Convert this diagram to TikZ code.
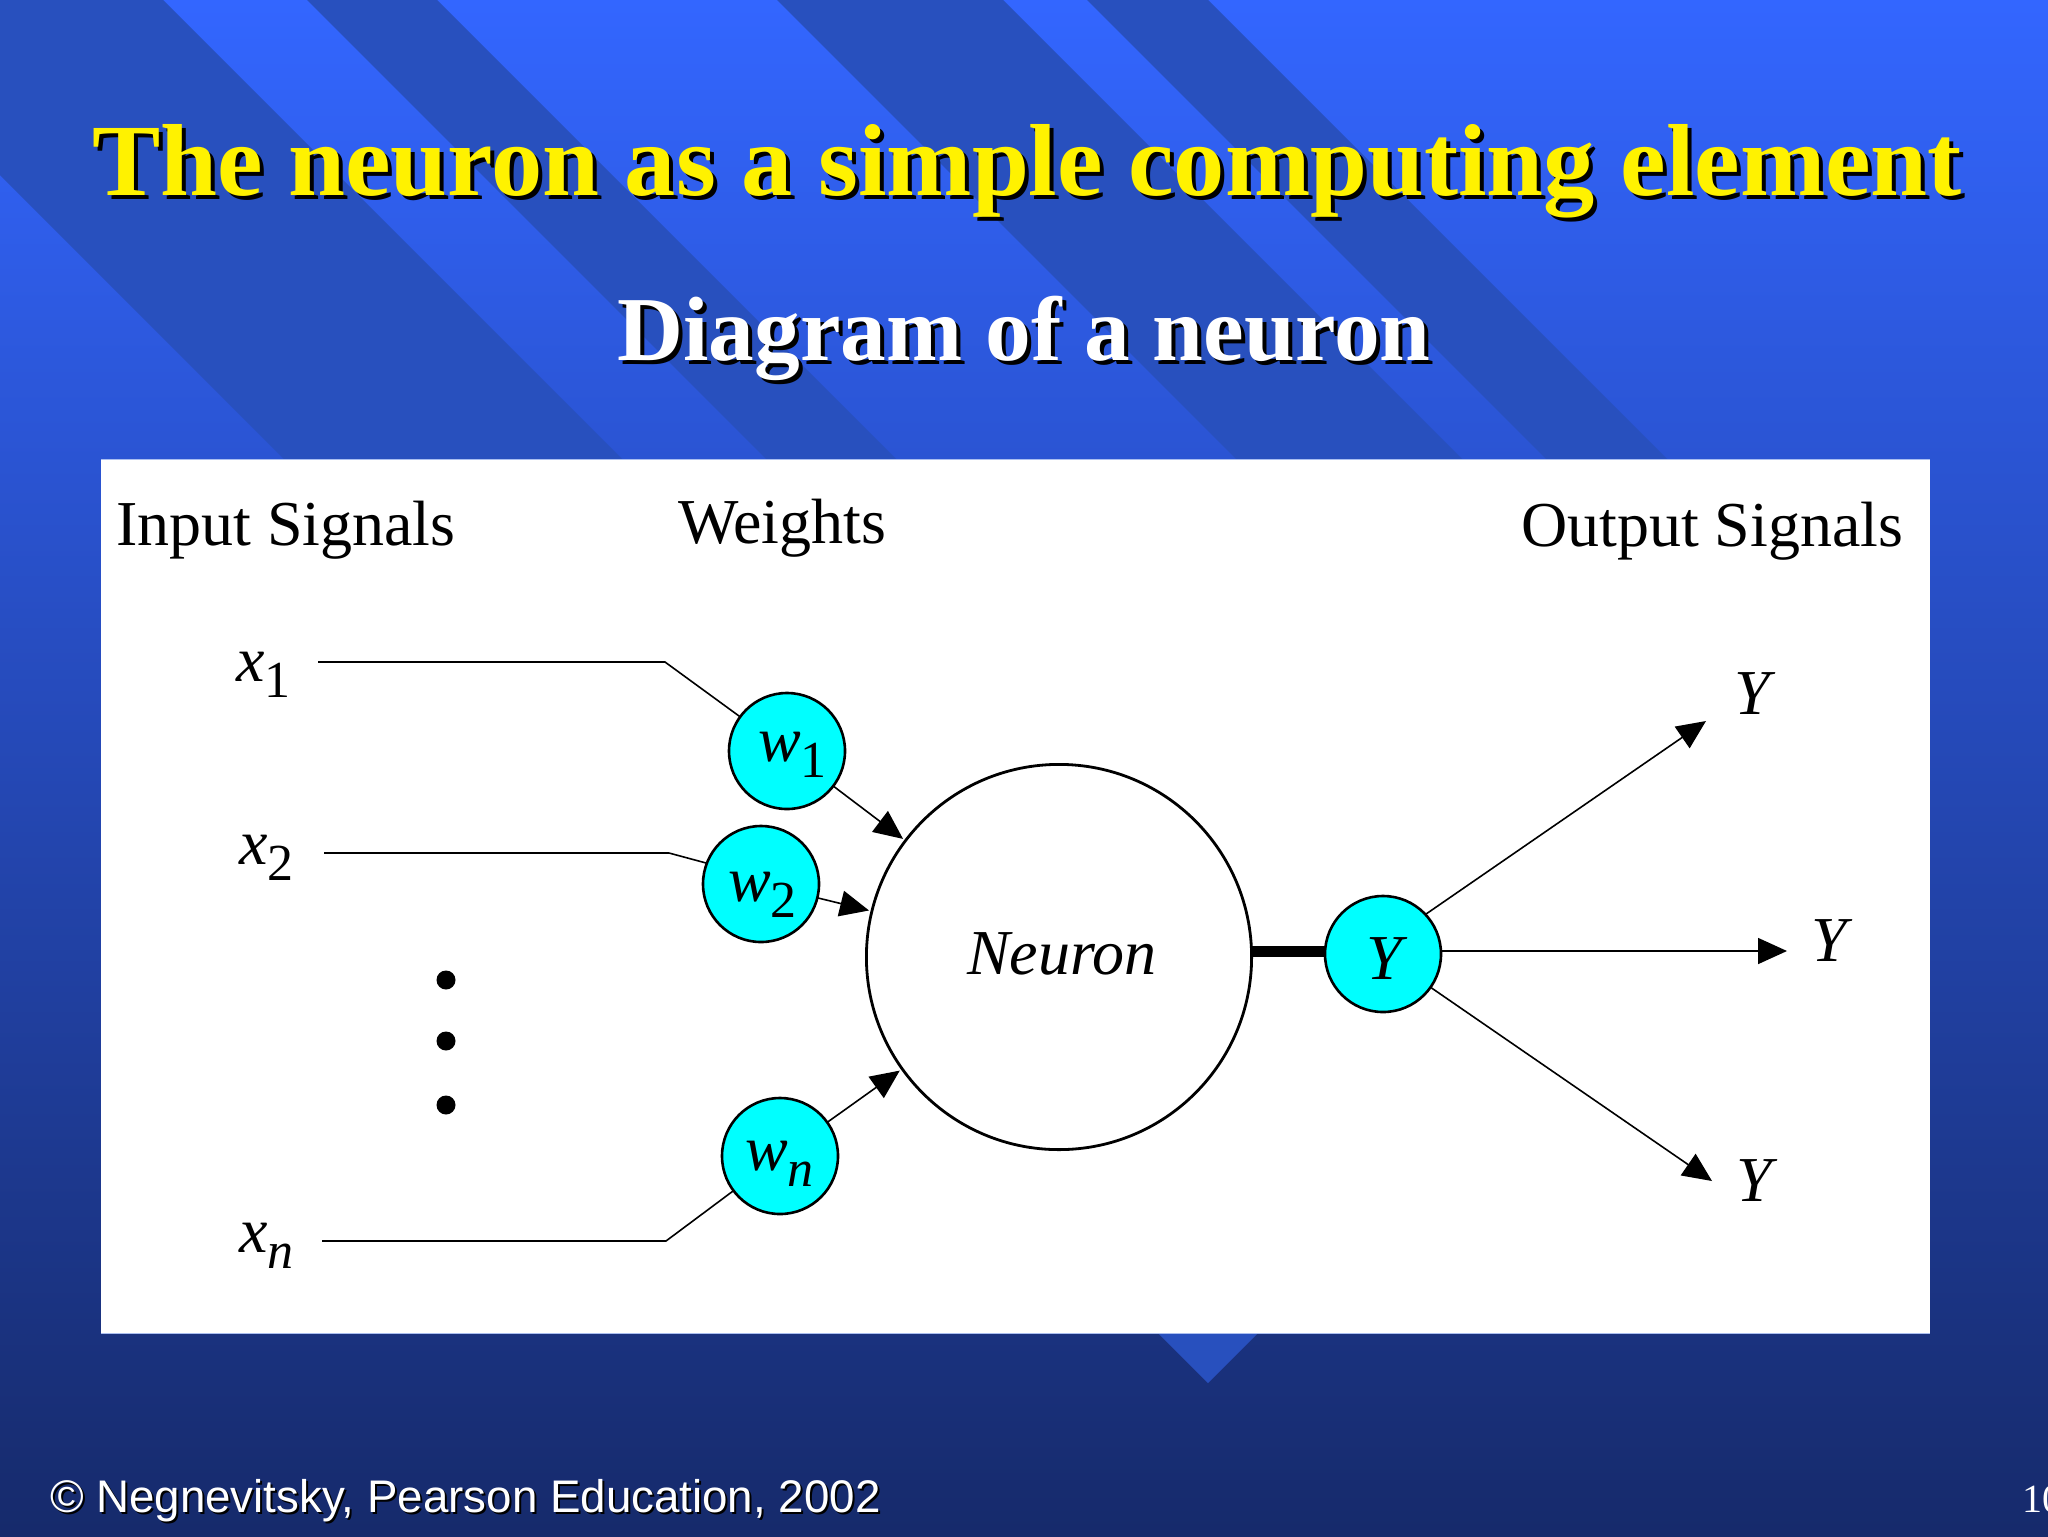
\documentclass[tikz,border=0pt]{standalone}
\usepackage{fontspec}
\setmainfont{Liberation Serif}
\newfontfamily\arialfam{Liberation Sans}
\usetikzlibrary{arrows.meta}
\definecolor{bgtop}{RGB}{51,102,255}
\definecolor{bgbot}{RGB}{22,42,107}
\definecolor{stripe}{RGB}{40,80,190}
\definecolor{wcyan}{RGB}{0,255,255}
\definecolor{edgeblue}{RGB}{170,190,240}
\newcommand{\fsz}[1]{\fontsize{#1bp}{#1bp}\selectfont}
\newcommand{\subbed}[2]{\textit{#1}\raisebox{-8bp}{\fsz{26}#2}}
\tikzset{
  x=0.5bp,y=-0.5bp,
  plainlabel/.style={anchor=base west,inner sep=0,outer sep=0,black,font=\fsz{32}},
  biglabel/.style={anchor=base,inner sep=0,outer sep=0,black,font=\fsz{32}\itshape},
  weightnode/.style={circle,draw=black,line width=1.3bp,fill=wcyan,inner sep=0,outer sep=0,minimum size=58bp},
  dotnode/.style={circle,fill=black,inner sep=0,outer sep=0,minimum size=9.5bp},
  wire/.style={draw=black,line width=0.8bp},
  arrowwire/.style={wire,-{Triangle[length=14.5bp,width=13bp]}},
  titletext/.style={anchor=base,inner sep=0,outer sep=0,font=\fsz{51.2}\bfseries},
  subtext/.style={anchor=base,inner sep=0,outer sep=0,font=\fsz{45.7}\bfseries},
  foottext/.style={anchor=base west,inner sep=0,outer sep=0,font=\fsz{22.85}\arialfam},
  numtext/.style={anchor=base west,inner sep=0,outer sep=0,font=\fsz{20}},
}
\begin{document}
\begin{tikzpicture}
\useasboundingbox (0,0) rectangle (2048,1536);
\begin{scope}
\clip (0,0) rectangle (2048,1536);
\shade[top color=bgtop,bottom color=bgbot] (0,0) rectangle (2048,1536);
\fill[stripe] (0,0) -- (163,0) -- (1377,1214) -- (1208,1383) -- (0,175) -- cycle;
\fill[stripe] (307,0) -- (437,0) -- (1514,1077) -- (1449,1142) -- cycle;
\fill[stripe] (777,0) -- (1003,0) -- (1797,794) -- (1684,907) -- cycle;
\fill[stripe] (1087,0) -- (1208,0) -- (1899.5,691.5) -- (1839,752) -- cycle;
\fill[white] (101,459) rectangle (1930,1333);
\draw[edgeblue,line width=0.5bp] (101,459) -- (1930,459);
\draw[edgeblue,line width=0.5bp] (101,1333) -- (1930,1333);
% titles
\node[titletext,black] (titleshadow) at (1031,199) {The neuron as a simple computing element};
\node[titletext,yellow] (title) at (1027,195) {The neuron as a simple computing element};
\node[subtext,black] (subshadow) at (1028,364) {Diagram of a neuron};
\node[subtext,white] (subtitle) at (1024,360) {Diagram of a neuron};
% footer
\node[foottext,black] (footshadow) at (52,1514) {© Negnevitsky, Pearson Education, 2002};
\node[foottext,white] (foot) at (50,1512) {© Negnevitsky, Pearson Education, 2002};
\node[numtext,white] (pagenum) at (2022,1512) {10};
% headers
\node[plainlabel] (inlabel) at (116,545) {Input Signals};
\node[plainlabel] (weightlabel) at (678,543) {Weights};
\node[plainlabel] (outlabel) at (1521,546) {Output Signals};
% inputs
\node[plainlabel] (x1) at (236,681) {\subbed{x}{1}};
\node[plainlabel] (x2) at (239,864) {\subbed{x}{2}};
\node[plainlabel] (xn) at (239,1252) {\subbed{x}{\textit{n}}};
\coordinate (s1) at (318,662);
\coordinate (b1) at (665,662);
\coordinate (s2) at (324,853);
\coordinate (b2) at (669,853);
\coordinate (sn) at (322,1241);
\coordinate (bn) at (666,1241);
% dots
\node[dotnode] (d1) at (446,980) {};
\node[dotnode] (d2) at (446,1041) {};
\node[dotnode] (d3) at (446,1105) {};
% nodes
\node[circle,draw=black,line width=1.4bp,fill=white,inner sep=0,outer sep=0,minimum size=192.6bp] (neuron) at (1059,957) {};
\node[biglabel] (neuronlabel) at (1062,974) {Neuron};
\node[weightnode] (w1) at (787,751) {};
\node[weightnode] (w2) at (761,884) {};
\node[weightnode] (wn) at (780,1156) {};
\node[plainlabel] (w1t) at (758,761) {\subbed{w}{1}};
\node[plainlabel] (w2t) at (728,901) {\subbed{w}{2}};
\node[plainlabel] (wnt) at (745,1170) {\subbed{w}{\textit{n}}};
\node[weightnode] (yc) at (1383,954) {};
\node[biglabel] (yt) at (1384,979) {Y};
% connectors
\draw[wire] (s1) -- (b1) -- (w1);
\draw[wire] (s2) -- (b2) -- (w2.159);
\draw[wire] (sn) -- (bn) -- (wn);
\draw[arrowwire,shorten >=1.5bp] (w1) -- (neuron);
\draw[arrowwire,shorten >=1.5bp] (w2) -- (neuron);
\draw[arrowwire,shorten >=1.5bp] (wn) -- (neuron);
\draw[draw=black,line width=5.5bp] (neuron.east |- yc) ++(-1,-3) coordinate (thick0) -- (yc.west |- thick0);
\coordinate (o1) at (1706,721);
\coordinate (o2) at (1787,951);
\coordinate (o3) at (1712,1181);
\draw[arrowwire] (yc.43) -- (o1);
\draw[arrowwire] (yc.east |- o2) -- (o2);
\draw[arrowwire] (yc.-35) -- (o3);
\node[biglabel] (y1) at (1752,714) {Y};
\node[biglabel] (y2) at (1829,961) {Y};
\node[biglabel] (y3) at (1754,1201) {Y};
\end{scope}
\end{tikzpicture}
\end{document}
